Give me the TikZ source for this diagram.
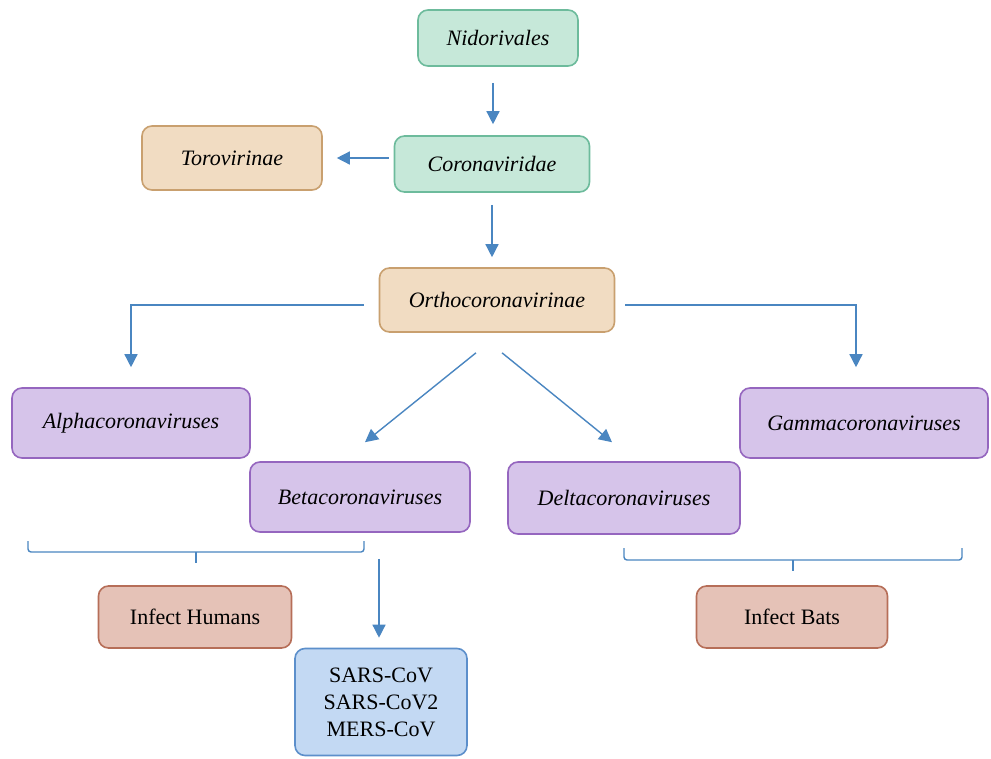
\documentclass[tikz,border=0pt]{standalone}
\usepackage{fontspec}
\setmainfont{Liberation Serif}
\usetikzlibrary{arrows.meta,calc}
\definecolor{grfill}{HTML}{C6E8D9}
\definecolor{grdraw}{HTML}{6DBB9C}
\definecolor{orfill}{HTML}{F1DCC2}
\definecolor{ordraw}{HTML}{C9A06F}
\definecolor{pufill}{HTML}{D6C4EA}
\definecolor{pudraw}{HTML}{9566BF}
\definecolor{rdfill}{HTML}{E5C2B7}
\definecolor{rddraw}{HTML}{B66E58}
\definecolor{blfill}{HTML}{C3D9F3}
\definecolor{bldraw}{HTML}{5C8FCB}
\definecolor{arr}{HTML}{4A86C1}
\begin{document}
\begin{tikzpicture}[x=1pt,y=-1pt,
  box/.style={rounded corners=10pt,line width=1.6pt,anchor=center,inner sep=0pt,
    font=\fontsize{22}{27}\selectfont},
  grbox/.style={box,fill=grfill,draw=grdraw},
  orbox/.style={box,fill=orfill,draw=ordraw},
  pubox/.style={box,fill=pufill,draw=pudraw},
  rdbox/.style={box,fill=rdfill,draw=rddraw},
  blbox/.style={box,fill=blfill,draw=bldraw},
  conn/.style={draw=arr,line width=1.4pt,-{Triangle[width=13pt,length=13pt]}},
  brace/.style={draw=arr,line width=1.4pt,rounded corners=3pt}]
\useasboundingbox (0,0) rectangle (991,758);
\fill[white] (0,0) rectangle (991,758);
\node[grbox,minimum width=160pt,minimum height=56pt] (nid) at (498,38) {\textit{Nidorivales}};
\node[grbox,minimum width=195pt,minimum height=56pt] (cor) at (492,164) {\textit{Coronaviridae}};
\node[orbox,minimum width=180pt,minimum height=64pt] (toro) at (232,158) {\textit{Torovirinae}};
\node[orbox,minimum width=235pt,minimum height=64pt] (ortho) at (497,300) {\textit{Orthocoronavirinae}};
\node[pubox,minimum width=238pt,minimum height=70pt] (alpha) at (131,423) {\textit{Alphacoronaviruses}};
\node[pubox,minimum width=220pt,minimum height=70pt] (beta) at (360,497) {\textit{Betacoronaviruses}};
\node[pubox,minimum width=232pt,minimum height=72pt] (delta) at (624,498) {\textit{Deltacoronaviruses}};
\node[pubox,minimum width=248pt,minimum height=70pt] (gam) at (864,423) {\textit{Gammacoronaviruses}};
\node[rdbox,minimum width=193pt,minimum height=62pt] (hum) at (195,617) {Infect Humans};
\node[rdbox,minimum width=191pt,minimum height=62pt] (bats) at (792,617) {Infect Bats};
\node[blbox,minimum width=172pt,minimum height=107pt,align=center,
  font=\fontsize{22}{27}\selectfont] (sars) at (381,702) {SARS-CoV\\SARS-CoV2\\MERS-CoV};
% connectors
\draw[conn,shorten <=16pt,shorten >=11pt] ([xshift=-5pt]nid.south) -- ([xshift=-5pt]nid.south |- cor.north);
\draw[conn,shorten <=5pt,shorten >=14pt] (cor.west |- toro.east) -- (toro.east);
\draw[conn,shorten <=12pt,shorten >=10pt] (cor.south) -- (cor.south |- ortho.north);
\draw[conn,shorten <=15pt,shorten >=20pt] ([yshift=-5pt]ortho.west) -| (alpha.north);
\draw[conn,shorten <=10pt,shorten >=20pt] ([yshift=-5pt]ortho.east) -| ([xshift=-8pt]gam.north);
\draw[conn] ($(ortho.south)+(-21,20)$) -- ($(beta.north)+(5,-19)$);
\draw[conn] ($(ortho.south)+(5,20)$) -- ($(delta.north)+(-12,-19)$);
\draw[conn,shorten <=26pt,shorten >=10pt] ([xshift=-2pt]beta.south -| sars.north) -- ([xshift=-2pt]sars.north);
% brackets
\draw[brace] (28,541) -- (28,552) -- (364,552) -- (364,541);
\draw[brace] (196,552) -- (196,563);
\draw[brace] (624,548) -- (624,560) -- (962,560) -- (962,548);
\draw[brace] (793,560) -- (793,571);
\end{tikzpicture}
\end{document}
